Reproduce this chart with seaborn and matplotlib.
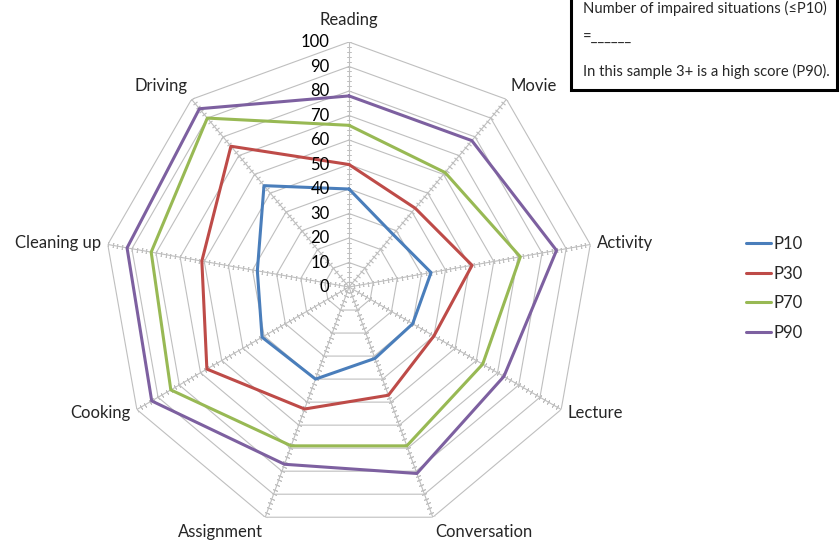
"""radar chart of impaired situations by percentile"""

import numpy as np
import pandas as pd
import seaborn as sns
import matplotlib.pyplot as plt
from matplotlib.patches import Rectangle

categories = ["Reading", "Movie", "Activity", "Lecture", "Conversation",
              "Assignment", "Cooking", "Cleaning up", "Driving"]
p10 = [40, 28, 34, 30, 31, 40, 41, 38, 54]
p30 = [50, 42, 51, 40, 47, 53, 67, 61, 75]
p70 = [66, 61, 71, 63, 69, 69, 84, 82, 90]
p90 = [78, 78, 86, 73, 81, 77, 93, 92, 95]
series_names = ["P10", "P30", "P70", "P90"]
series_colors = ["#4A7EBB", "#BE4B48", "#98B954", "#7D60A0"]
value_ticks = [0, 10, 20, 30, 40, 50, 60, 70, 80, 90, 100]

sns.set_theme(style="white")
plt.rcParams["font.family"] = ["Lato", "DejaVu Sans"]

n = len(categories)
thetas = np.linspace(0, 2 * np.pi, n, endpoint=False)
theta_closed = np.append(thetas, 2 * np.pi)

# long table for seaborn, polygon closed by repeating the first point
rows = []
for name, vals in zip(series_names, [p10, p30, p70, p90]):
    for t, v in zip(theta_closed, vals + vals[:1]):
        rows.append({"theta": t, "value": v, "series": name})
df = pd.DataFrame(rows)

fig = plt.figure(figsize=(8.39, 5.40), dpi=100)
ax = fig.add_axes([0.124, 0.0148, 0.584, 0.9074], projection="polar")
ax.set_theta_offset(np.pi / 2)
ax.set_theta_direction(-1)
ax.set_ylim(0, 100)
ax.grid(False)
ax.set_xticks([])
ax.set_yticks([])
ax.spines["polar"].set_visible(False)

# polygon gridlines and spokes with small ticks
for v in value_ticks[1:]:
    ax.plot(theta_closed, [v] * (n + 1), color="#BFBFBF", lw=0.8, zorder=1)
minor = np.arange(2, 101, 2)
for k, t in enumerate(thetas):
    ax.plot([t, t], [0, 100], color="#BFBFBF", lw=0.8, zorder=1)
    phi = 90 - 360 / n * k
    ax.plot([t] * len(minor), minor, ls="none", marker=(2, 2, phi),
            markersize=3.5, markeredgewidth=0.6, markeredgecolor="#BFBFBF", zorder=1)

sns.lineplot(data=df, x="theta", y="value", hue="series", palette=series_colors,
             sort=False, estimator=None, lw=2.2, ax=ax, zorder=3)
ax.set_xlabel("")
ax.set_ylabel("")

# value labels along the Reading axis
for v in value_ticks:
    ax.annotate(str(v), xy=(0, v), xytext=(-14, 0), textcoords="offset points",
                ha="right", va="center", fontsize=12, color="#000000")

# category labels
for k, (t, cat) in enumerate(zip(thetas, categories)):
    phi = np.deg2rad(90 - 360 / n * k)
    c, s = np.cos(phi), np.sin(phi)
    ha = "left" if c > 0.1 else ("right" if c < -0.1 else "center")
    va = "bottom" if s > 0.6 else ("top" if s < -0.6 else "center")
    d = 10 if k == 0 else 5
    ax.annotate(cat, xy=(t, 100), xytext=(d * c, d * s), textcoords="offset points",
                ha=ha, va=va, fontsize=12, annotation_clip=False)

sns.move_legend(ax, "upper left", bbox_to_anchor=(0.8717, 0.5908),
                bbox_transform=fig.transFigure, frameon=False, title=None,
                fontsize=12, handlelength=1.5, handletextpad=0.15, labelspacing=0.82)

# note box in the top right corner
fig.patches.append(Rectangle((571 / 839, 1 - 90 / 540), 266 / 839, 0.3,
                             transform=fig.transFigure, facecolor="white",
                             edgecolor="black", lw=2.2, zorder=5))
fig.text(583 / 839, 1 - 8 / 540, "Number of impaired situations (\u2264P10)",
         ha="left", va="center", fontsize=10.6, zorder=6)
fig.text(583 / 839, 1 - 38 / 540, "=______", ha="left", va="center", fontsize=10.6, zorder=6)
fig.text(583 / 839, 1 - 71 / 540, "In this sample 3+ is a high score (P90).",
         ha="left", va="center", fontsize=10.6, zorder=6)

plt.savefig("out.png", dpi=100)
plt.close()
